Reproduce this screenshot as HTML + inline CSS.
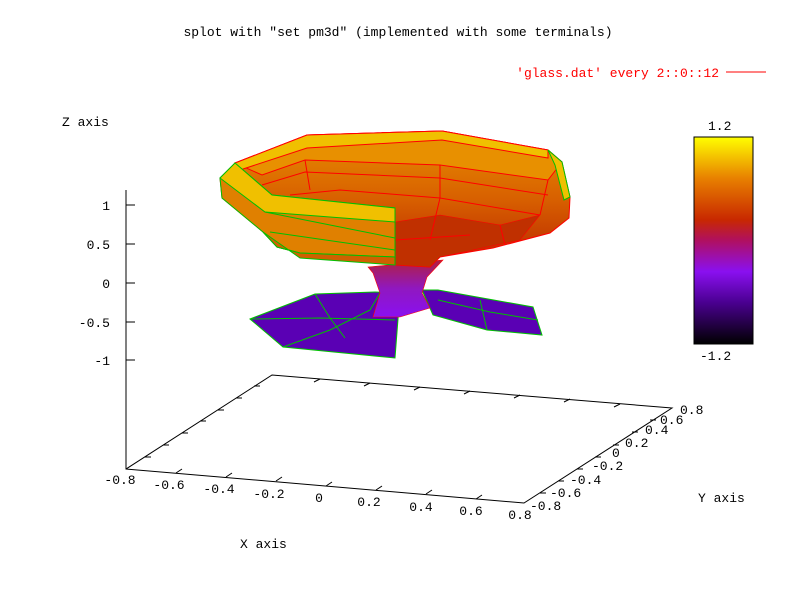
<!DOCTYPE html>
<html><head><style>
body{margin:0;background:#fff}
svg text{font-family:"Liberation Mono",monospace;font-size:13px}
</style></head><body>
<svg width="800" height="600" viewBox="0 0 800 600" xmlns="http://www.w3.org/2000/svg">
<defs>
<linearGradient id="cb" x1="0" y1="1" x2="0" y2="0">
<stop offset="0" stop-color="#000000"/>
<stop offset="0.2" stop-color="#4a0090"/>
<stop offset="0.35" stop-color="#8a10f0"/>
<stop offset="0.5" stop-color="#b01060"/>
<stop offset="0.6" stop-color="#c82800"/>
<stop offset="0.8" stop-color="#e88000"/>
<stop offset="1" stop-color="#ffff00"/>
</linearGradient>
<linearGradient id="stem" x1="0" y1="0" x2="0" y2="1">
<stop offset="0" stop-color="#b02040"/>
<stop offset="0.5" stop-color="#9018c0"/>
<stop offset="1" stop-color="#8a10f0"/>
</linearGradient>
<linearGradient id="inner" x1="0" y1="0" x2="0" y2="1">
<stop offset="0" stop-color="#e89000"/>
<stop offset="0.5" stop-color="#d86000"/>
<stop offset="1" stop-color="#b82400"/>
</linearGradient>
</defs>
<text x="398" y="36" text-anchor="middle">splot with "set pm3d" (implemented with some terminals)</text>
<text x="719" y="77" text-anchor="end" fill="#f00">'glass.dat' every 2::0::12</text>
<line x1="726" y1="72" x2="766" y2="72" stroke="#f00"/>
<text x="62" y="126">Z axis</text>
<text x="240" y="548">X axis</text>
<text x="698" y="502">Y axis</text>

<g stroke="#000" fill="none" stroke-width="1">
<polyline points="126,190 126,469 524,503 672,408 272,375 126,469"/>
<line x1="126" y1="205" x2="135" y2="205"/><line x1="126" y1="244" x2="135" y2="244"/>
<line x1="126" y1="283" x2="135" y2="283"/><line x1="126" y1="322" x2="135" y2="322"/>
<line x1="126" y1="360" x2="135" y2="360"/>
<path d="M176,473 l6,-4 M226,477 l6,-4 M276,481 l6,-4 M326,486 l6,-4 M376,490 l6,-4 M426,494 l6,-4 M476,499 l6,-4
M145,457 l6,0 M163,445 l6,0 M182,433 l6,0 M200,421 l6,0 M218,410 l6,0 M236,398 l6,0 M254,386 l6,0
M540,493 l6,0 M558,481 l6,0 M577,469 l6,0 M595,457 l6,0 M613,445 l6,0 M632,432 l6,0 M650,420 l6,0
M320,379 l-6,3 M370,383 l-6,3 M420,387 l-6,3 M470,391 l-6,3 M520,395 l-6,3 M570,399 l-6,3 M620,404 l-6,3"/>
</g>
<g text-anchor="end">
<text x="110" y="210">1</text><text x="110" y="249">0.5</text><text x="110" y="288">0</text>
<text x="110" y="327">-0.5</text><text x="110" y="365">-1</text>
</g>
<g text-anchor="middle">
<text x="120" y="484">-0.8</text><text x="169" y="489">-0.6</text><text x="219" y="493">-0.4</text>
<text x="269" y="498">-0.2</text><text x="319" y="502">0</text><text x="369" y="506">0.2</text>
<text x="421" y="511">0.4</text><text x="471" y="515">0.6</text><text x="520" y="519">0.8</text>
</g>
<g>
<text x="530" y="510">-0.8</text><text x="550" y="497">-0.6</text><text x="570" y="484">-0.4</text>
<text x="592" y="470">-0.2</text><text x="612" y="457">0</text><text x="625" y="447">0.2</text>
<text x="645" y="434">0.4</text><text x="660" y="424">0.6</text><text x="680" y="414">0.8</text>
</g>

<g stroke="#00c000" stroke-width="1">
<polygon points="250,319 315,294 375,292 400,293 395,358 283,347" fill="#5a00b4"/>
<polygon points="422,290 438,290 533,307 542,335 487,330 433,315" fill="#5a00b4"/>
<polyline fill="none" points="250,319 320,318 395,320"/>
<polyline fill="none" points="283,347 330,330 370,310 380,293"/>
<polyline fill="none" points="315,294 330,318 345,338"/>
<polyline fill="none" points="438,300 490,312 538,320"/>
<polyline fill="none" points="487,330 480,300"/>
</g>
<polygon points="368,267 443,260 427,277 422,293 430,308 400,317 373,317 380,293 373,273" fill="url(#stem)" stroke="#f00" stroke-width="0.6"/>
<polygon points="220,178 235,163 307,135 442,131 548,150 562,162 570,197 569,218 550,233 493,248 440,257 430,267 395,265 300,253 277,247 263,232 222,198" fill="url(#inner)" stroke="#f00"/>
<polygon points="235,163 307,135 442,131 548,150 562,162 548,180 440,165 305,160 262,175" fill="#e89000" stroke="#f00"/>
<polygon points="307,135 442,131 548,150 548,158 442,140 307,148 240,170 235,163" fill="#f0c000" stroke="#f00"/>
<polygon points="548,150 562,162 570,197 564,200 555,165" fill="#f0c000" stroke="#00c000"/>
<polygon points="395,222 440,215 500,225 540,215 520,240 440,257 430,267 395,265" fill="#c03000" stroke="#f00" stroke-width="0.6"/>
<g stroke="#f00" fill="none" stroke-width="1">
<polyline points="262,185 305,172 440,178 548,195"/>
<polyline points="290,195 340,190 440,198 540,215"/>
<line x1="305" y1="160" x2="310" y2="190"/><line x1="440" y1="165" x2="440" y2="198"/>
<line x1="440" y1="198" x2="430" y2="240"/><line x1="500" y1="225" x2="505" y2="245"/>
<line x1="548" y1="180" x2="540" y2="215"/><line x1="395" y1="240" x2="470" y2="235"/>
</g>
<polygon points="220,178 235,163 272,195 395,208 395,257 300,253 277,247 263,232 222,198" fill="#e08000" stroke="#00c000"/>
<polygon points="220,178 235,163 272,195 395,208 395,222 265,212" fill="#f0c000" stroke="#00c000"/>
<polyline points="265,212 395,238" fill="none" stroke="#00c000"/>
<polyline points="270,232 395,250" fill="none" stroke="#00c000"/>
<polygon points="263,232 277,247 300,253 395,257 395,265 300,258" fill="#d06000" stroke="#00c000"/>

<rect x="694" y="137" width="59" height="207" fill="url(#cb)" stroke="#000"/>
<text x="708" y="130">1.2</text>
<text x="700" y="360">-1.2</text>
</svg>
</body></html>
